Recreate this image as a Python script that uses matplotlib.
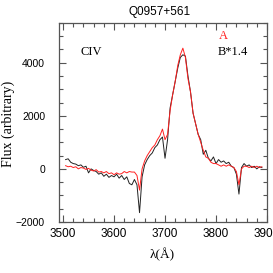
import matplotlib
matplotlib.use("Agg")
import matplotlib.pyplot as plt
from matplotlib.ticker import MultipleLocator

# wavelength grid (Angstrom)
wave = [3505, 3510, 3515, 3520, 3525, 3530, 3535, 3540, 3545, 3550,
        3555, 3560, 3565, 3570, 3575, 3580, 3585, 3590, 3595, 3600,
        3605, 3610, 3615, 3620, 3625, 3630, 3635, 3640, 3645, 3650,
        3655, 3660, 3665, 3670, 3675, 3680, 3685, 3690, 3695, 3700,
        3705, 3710, 3715, 3720, 3725, 3730, 3735, 3740, 3745, 3750,
        3755, 3760, 3765, 3770, 3775, 3780, 3785, 3790, 3795, 3800,
        3805, 3810, 3815, 3820, 3825, 3830, 3835, 3840, 3845, 3850,
        3855, 3860, 3865, 3870, 3875, 3880, 3885, 3890]

# image B scaled by 1.4 (black)
flux_b = [350, 380, 250, 200, 180, 120, 150, 60, 100, -150,
          0, -60, -100, -200, -150, -280, -200, -320, -250, -300,
          -200, -350, -250, -400, -300, -550, -600, -400, -600, -1650,
          -300, 150, 350, 500, 600, 800, 900, 1100, 1200, 400,
          1100, 2300, 2800, 3300, 3800, 4200, 4300, 4250, 3500, 2900,
          2100, 1700, 1300, 1100, 550, 700, 400, 300, 450, 200,
          350, 250, 300, 200, 250, 100, 50, -200, -950, 50,
          200, 100, 150, 50, 100, 0, 80, 50]

# image A (red)
flux_a = [120, 80, 100, 50, 80, 0, 50, 30, -20, 20,
          -50, -80, -30, -120, -100, -150, -100, -180, -150, -220,
          -150, -200, -180, -100, -150, -100, -120, -120, -250, -800,
          0, 300, 500, 650, 800, 900, 1100, 1250, 1500, 1100,
          1300, 2200, 2800, 3300, 3900, 4300, 4550, 4200, 3400, 2900,
          2100, 1700, 1300, 1000, 700, 450, 400, 250, 200, 200,
          150, 100, 150, 100, 150, 100, 50, -100, -600, 0,
          100, 100, 50, 100, 50, 100, 50, 80]

serif = ["Liberation Serif", "DejaVu Serif"]
sans = ["Liberation Sans", "DejaVu Sans"]
axis_grey = "#555555"

fig = plt.figure(figsize=(2.73, 2.73), dpi=100)
ax = fig.add_axes([0.216, 0.187, 0.762, 0.729])

ax.plot(wave, flux_b, color="#222222", lw=0.7)
ax.plot(wave, flux_a, color="#ff2020", lw=0.7)

ax.set_xlim(3492, 3900)
ax.set_ylim(-2000, 5500)
ax.xaxis.set_major_locator(MultipleLocator(100))
ax.xaxis.set_minor_locator(MultipleLocator(20))
ax.yaxis.set_major_locator(MultipleLocator(2000))
ax.yaxis.set_minor_locator(MultipleLocator(500))
ax.tick_params(which="both", direction="in", top=True, right=True,
               color=axis_grey, width=0.8)
ax.tick_params(which="major", length=5)
ax.tick_params(which="minor", length=3)
ax.tick_params(axis="x", labelsize=8.5, pad=4)
ax.tick_params(axis="y", labelsize=7.5, pad=10)
for lab in ax.get_xticklabels() + ax.get_yticklabels():
    lab.set_family(sans)
for sp in ax.spines.values():
    sp.set_color(axis_grey)
    sp.set_linewidth(0.9)

ax.text(3535, 4400, "CIV", family=serif, fontsize=9, va="center")
ax.text(3806, 4990, "A", family=serif, fontsize=9, va="center", color="#ff2020")
ax.text(3804, 4400, "B*1.4", family=serif, fontsize=9, va="center")

fig.text(160 / 273, 1 - 12 / 273, "Q0957+561", family=sans,
         fontsize=8.5, ha="center", va="center")
ax.set_xlabel("λ(Å)", family=serif, fontsize=9.5)
ax.set_ylabel("Flux (arbitrary)", family=serif, fontsize=10)
ax.xaxis.set_label_coords((162 - 59) / 208, -(248 - 222) / 199)
ax.yaxis.set_label_coords(-(59 - 15) / 208, (222 - 124) / 199)

fig.savefig("out.png", dpi=100)
plt.close(fig)
